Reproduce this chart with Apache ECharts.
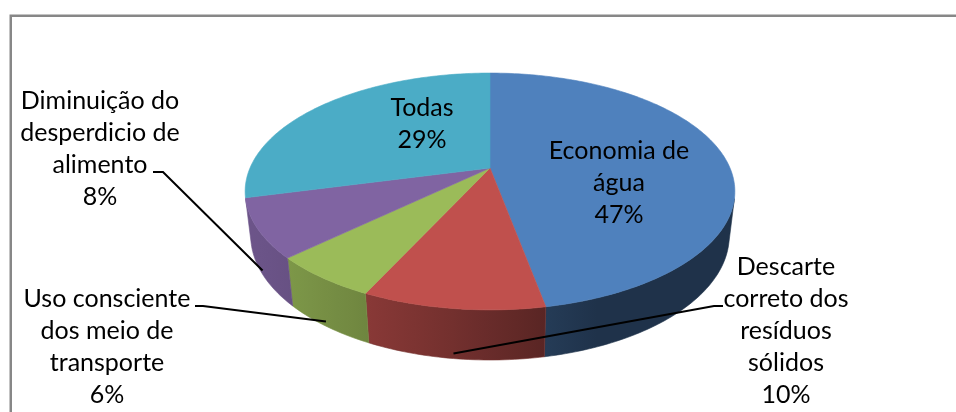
<!DOCTYPE html>
<html>
<head>
<meta charset="utf-8">
<script src="https://cdn.jsdelivr.net/npm/echarts@6/dist/echarts.min.js"></script>
<style>
  html, body { margin: 0; padding: 0; background: #fff; }
  #chart { width: 956px; height: 412px; }
</style>
</head>
<body>
<div id="chart"></div>
<script>
// dados
var categories = ['Economia de água', 'Descarte correto dos resíduos sólidos', 'Uso consciente dos meio de transporte', 'Diminuição do desperdicio de alimento', 'Todas'];
var values = [47, 10, 6, 8, 29];
var labelLines = [
  ['Economia de', 'água'],
  ['Descarte', 'correto dos', 'resíduos', 'sólidos'],
  ['Uso consciente', 'dos meio de', 'transporte'],
  ['Diminuição do', 'desperdicio de', 'alimento'],
  ['Todas']
];
var topColors = ['#4F81BD', '#C0504D', '#9BBB59', '#8064A2', '#4BACC6'];

// posição dos rótulos (centro do bloco) e início da linha de chamada
var labelLayout = [
  { at: [619, 183] },
  { at: [786, 331], leader: [[723, 306], [714, 306]] },
  { at: [107, 347], leader: [[195, 306], [203, 306]] },
  { at: [100, 149], leader: [[153, 172], [163, 172]] },
  { at: [422, 124] }
];

// perspectiva da pizza 3D
var PX = 490, PY = 168;
var F = 1066.7, R = 0.225, H = 0.0474;
var SIN = 0.474, COS = 0.8805;
var WALL_FROM = 104.8, WALL_TO = 255.2;

function project(theta, r, y) {
  var t = theta * Math.PI / 180;
  var X = R * r * Math.sin(t), Z = R * r * Math.cos(t);
  var yv = Z * SIN + y * COS;
  var zv = 1 + Z * COS - y * SIN;
  return [PX + F * X / zv, PY - F * yv / zv];
}

function shade(hex, theta) {
  var k = 0.39 + 0.455 * Math.max(0, Math.cos((theta - 250) * Math.PI / 180));
  var n = parseInt(hex.slice(1), 16);
  var r = Math.round(((n >> 16) & 255) * k), g = Math.round(((n >> 8) & 255) * k), b = Math.round((n & 255) * k);
  return 'rgb(' + r + ',' + g + ',' + b + ')';
}

var total = values.reduce(function (a, b) { return a + b; }, 0);
var starts = [];
var acc = 0;
for (var i = 0; i < values.length; i++) {
  starts.push(acc / total * 360);
  acc += values[i];
}

function renderItem(params, api) {
  var i = params.dataIndex;
  var a = starts[i], b = a + api.value(0) / total * 360;
  var children = [];

  // face superior
  var pts = [project(0, 0, 0)];
  for (var t = a; t < b; t += 1) pts.push(project(t, 1, 0));
  pts.push(project(b, 1, 0));
  children.push({
    type: 'polygon', z2: 2,
    shape: { points: pts },
    style: { fill: topColors[i], stroke: topColors[i], lineWidth: 0.6 }
  });

  // lateral
  var wa = Math.max(a, WALL_FROM), wb = Math.min(b, WALL_TO);
  if (wb > wa) {
    var top = [], bottom = [];
    for (var t2 = wa; t2 < wb; t2 += 1) {
      top.push(project(t2, 1, 0));
      bottom.push(project(t2, 1, -H));
    }
    top.push(project(wb, 1, 0));
    bottom.push(project(wb, 1, -H));
    var stops = [];
    var x0 = project(wb, 1, 0)[0], x1 = project(wa, 1, 0)[0];
    var minX = Math.min(x0, x1), maxX = Math.max(x0, x1);
    for (var s = 0; s <= 6; s++) {
      var th = wb - (wb - wa) * s / 6;
      var px = project(th, 1, 0)[0];
      stops.push({ offset: maxX > minX ? (px - minX) / (maxX - minX) : 0, color: shade(topColors[i], th) });
    }
    stops.sort(function (p, q) { return p.offset - q.offset; });
    children.push({
      type: 'polygon', z2: 1,
      shape: { points: top.concat(bottom.reverse()) },
      style: {
        fill: { type: 'linear', x: 0, y: 0, x2: 1, y2: 0, colorStops: stops },
        stroke: shade(topColors[i], (wa + wb) / 2), lineWidth: 0.6
      }
    });
  }

  // rótulo
  var lay = labelLayout[i];
  var pct = Math.round(api.value(0) / total * 100) + '%';
  children.push({
    type: 'text', z2: 4,
    style: {
      x: lay.at[0], y: lay.at[1],
      text: labelLines[i].concat(pct).join('\n'),
      fill: '#000',
      fontFamily: 'Lato',
      fontSize: 25,
      lineHeight: 32,
      align: 'center',
      verticalAlign: 'middle'
    }
  });

  // linha de chamada
  if (lay.leader) {
    var mid = (a + b) / 2;
    var p1 = project(mid, 1, 0), p2 = project(mid, 1, -H);
    var anchor = [p1[0] + (p2[0] - p1[0]) * 0.9, p1[1] + (p2[1] - p1[1]) * 0.9];
    children.push({
      type: 'polyline', z2: 3,
      shape: { points: lay.leader.concat([anchor]) },
      style: { stroke: '#000', lineWidth: 2, fill: null }
    });
  }

  return { type: 'group', children: children };
}

var chart = echarts.init(document.getElementById('chart'));
chart.setOption({
  animation: false,
  backgroundColor: '#fff',
  graphic: [{
    type: 'rect',
    shape: { x: 10.75, y: 15.75, width: 1000, height: 500 },
    style: { fill: null, stroke: '#878787', lineWidth: 2.5 }
  }],
  series: [{
    type: 'custom',
    coordinateSystem: 'none',
    renderItem: renderItem,
    data: values.map(function (v, i) { return { name: categories[i], value: [v] }; })
  }]
});
</script>
</body>
</html>
